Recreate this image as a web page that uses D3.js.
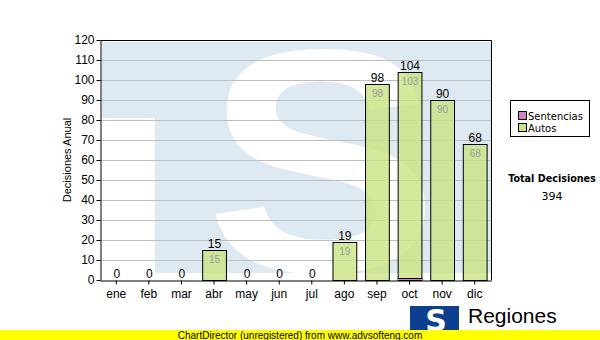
<!DOCTYPE html>
<html>
<head>
<meta charset="utf-8">
<script src="https://cdn.jsdelivr.net/npm/d3@7"></script>
<style>
  body { margin: 0; background: #fff; }
  svg text { font-family: "Liberation Sans", Arial, sans-serif; }
</style>
</head>
<body>
<script>
const months = ["ene", "feb", "mar", "abr", "may", "jun", "jul", "ago", "sep", "oct", "nov", "dic"];
const sentencias = [0, 0, 0, 0, 0, 0, 0, 0, 0, 1, 0, 0];
const autos = [0, 0, 0, 15, 0, 0, 0, 19, 98, 103, 90, 68];
const yTicks = [0, 10, 20, 30, 40, 50, 60, 70, 80, 90, 100, 110, 120];
const seriesNames = ["Sentencias", "Autos"];
const totalLabel = "Total Decisiones";

const colSent = "#d67fc4";
const colAutos = "#c9e482";
const W = 600, H = 340;
const plot = {left: 100, right: 491, top: 40, bottom: 280};

const svg = d3.select("body").append("svg")
    .attr("width", W)
    .attr("height", H);

const x = d3.scaleBand()
    .domain(months)
    .range([plot.left, plot.right])
    .paddingInner(0.27)
    .paddingOuter(0.135);
const y = d3.scaleLinear()
    .domain([0, 120])
    .range([plot.bottom, plot.top]);

// watermark logo behind the plot
svg.append("clipPath").attr("id", "pclip")
    .append("rect")
    .attr("x", plot.left).attr("y", plot.top)
    .attr("width", plot.right - plot.left).attr("height", plot.bottom - plot.top);
const wm = svg.append("g").attr("clip-path", "url(#pclip)");
wm.append("rect")
    .attr("x", 102).attr("y", 42)
    .attr("width", 400).attr("height", 231)
    .attr("fill", "#dfe9f2");
wm.append("rect")
    .attr("x", 100).attr("y", 118)
    .attr("width", 55).attr("height", 170)
    .attr("fill", "#fff");
wm.append("text")
    .attr("transform", "translate(322,271) scale(1.1,1)")
    .attr("text-anchor", "middle")
    .style("font-weight", "bold")
    .style("font-size", "318px")
    .attr("fill", "#fff")
    .text("S");

// gridlines
svg.append("g")
    .selectAll("line")
    .data(yTicks.filter(d => d > 0 && d < 120))
    .enter().append("line")
    .attr("x1", plot.left).attr("x2", plot.right)
    .attr("y1", d => y(d) + 0.5).attr("y2", d => y(d) + 0.5)
    .attr("stroke", "#bdbdbd");

// bars
const stack = months.map((m, i) => ({m: m, s: sentencias[i], a: autos[i], t: sentencias[i] + autos[i]}));
const bars = svg.append("g");
bars.selectAll("rect.s")
    .data(stack.filter(d => d.s > 0))
    .enter().append("rect")
    .attr("x", d => x(d.m) + 0.5)
    .attr("y", d => y(d.s) + 0.5)
    .attr("width", x.bandwidth())
    .attr("height", d => y(0) - y(d.s))
    .attr("fill", colSent)
    .attr("stroke", "#000");
bars.selectAll("rect.a")
    .data(stack.filter(d => d.a > 0))
    .enter().append("rect")
    .attr("x", d => x(d.m) + 0.5)
    .attr("y", d => y(d.t) + 0.5)
    .attr("width", x.bandwidth())
    .attr("height", d => y(d.s) - y(d.t))
    .attr("fill", colAutos)
    .attr("fill-opacity", 0.8)
    .attr("stroke", "#000");

// inner labels
bars.selectAll("text.in")
    .data(stack.filter(d => d.a > 0))
    .enter().append("text")
    .attr("x", d => x(d.m) + x.bandwidth() / 2 + 0.5)
    .attr("y", d => y(d.t) + 13)
    .attr("text-anchor", "middle")
    .style("font-size", "10px")
    .attr("fill", "#9a9a9a")
    .text(d => d.a);

// total labels
bars.selectAll("text.tot")
    .data(stack)
    .enter().append("text")
    .attr("x", d => x(d.m) + x.bandwidth() / 2 + 0.5)
    .attr("y", d => y(d.t) - 2)
    .attr("text-anchor", "middle")
    .style("font-size", "12px")
    .attr("fill", "#000")
    .text(d => d.t);

// axes
const yAxis = svg.append("g")
    .attr("transform", "translate(" + (plot.left + 0.5) + ",0)")
    .call(d3.axisLeft(y).tickValues(yTicks).tickSize(4).tickSizeOuter(0));
yAxis.selectAll("text").style("font-size", "12px").attr("fill", "#000").attr("dx", "1");
const xAxis = svg.append("g")
    .attr("transform", "translate(0," + (plot.bottom + 0.5) + ")")
    .call(d3.axisBottom(x).tickSize(4).tickSizeOuter(0));
xAxis.selectAll("text").style("font-size", "12px").attr("fill", "#000").attr("dy", "0.9em");
svg.selectAll(".domain").attr("stroke", "#000");
svg.selectAll(".tick line").attr("stroke", "#000");

// top/right border
svg.append("path")
    .attr("d", "M" + (plot.left + 0.5) + "," + (plot.top + 0.5) + "H" + (plot.right + 0.5) + "V" + (plot.bottom + 0.5))
    .attr("fill", "none")
    .attr("stroke", "#000");

svg.append("text")
    .attr("transform", "translate(71," + 160 + ") rotate(-90)")
    .attr("text-anchor", "middle")
    .style("font-size", "11px")
    .text("Decisiones Anual");

// legend
const leg = svg.append("g");
leg.append("rect")
    .attr("x", 510.5).attr("y", 100.5)
    .attr("width", 79).attr("height", 36)
    .attr("fill", "#fff").attr("stroke", "#000");
[colSent, colAutos].forEach((c, i) => {
    leg.append("rect")
        .attr("x", 518.5).attr("y", 111.5 + i * 12)
        .attr("width", 8).attr("height", 8)
        .attr("fill", c).attr("stroke", "#000");
    leg.append("text")
        .attr("x", 528).attr("y", 119.5 + i * 12)
        .style("font-family", "DejaVu Sans")
        .style("font-size", "10px")
        .text(seriesNames[i]);
});

svg.append("text")
    .attr("x", 552).attr("y", 182)
    .attr("text-anchor", "middle")
    .style("font-family", "DejaVu Sans")
    .style("font-size", "9.6px")
    .style("font-weight", "bold")
    .text(totalLabel);
svg.append("text")
    .attr("x", 552).attr("y", 200)
    .attr("text-anchor", "middle")
    .style("font-family", "DejaVu Sans")
    .style("font-size", "11px")
    .text(d3.sum(sentencias) + d3.sum(autos));

// footer logo
const logo = svg.append("g");
logo.append("rect")
    .attr("x", 410).attr("y", 306)
    .attr("width", 49).attr("height", 30)
    .attr("fill", "#0c3f8e");
logo.append("text")
    .attr("x", 436).attr("y", 331)
    .attr("text-anchor", "middle")
    .style("font-family", "DejaVu Sans")
    .style("font-weight", "bold")
    .style("font-size", "30px")
    .attr("fill", "#fff")
    .text("S");
svg.append("text")
    .attr("x", 468).attr("y", 323)
    .style("font-size", "21px")
    .text("Regiones");
svg.append("text")
    .attr("x", 468).attr("y", 338)
    .style("font-size", "10px")
    .text("Tribunal Supremo de Justicia");

// unregistered banner
svg.append("rect")
    .attr("x", 0).attr("y", 330)
    .attr("width", W).attr("height", 10)
    .attr("fill", "#ffff00");
svg.append("text")
    .attr("x", 300).attr("y", 338.5)
    .attr("text-anchor", "middle")
    .style("font-size", "10px")
    .text("ChartDirector (unregistered) from www.advsofteng.com");
</script>
</body>
</html>
